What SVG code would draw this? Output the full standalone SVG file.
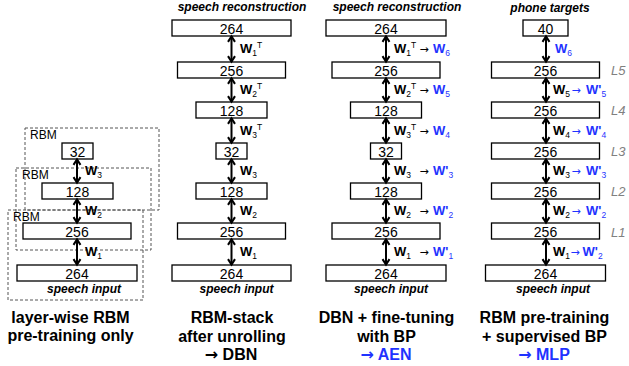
<svg xmlns="http://www.w3.org/2000/svg" width="629" height="366" viewBox="0 0 629 366">
<defs>
<marker id="ah" viewBox="0 0 8 8" refX="7" refY="4" markerWidth="8" markerHeight="8" markerUnits="userSpaceOnUse" orient="auto-start-reverse" overflow="visible"><path d="M1.1,0.5 L6.6,4 L1.1,7.5" fill="none" stroke="#000" stroke-width="2"/></marker>
</defs>
<style>
text{font-family:"Liberation Sans",Arial,sans-serif;fill:#000}
.box{fill:#fff;stroke:#000;stroke-width:1.3}
.num{font-size:14px;text-anchor:middle}
.w{font-size:13px;font-weight:bold}
.s{font-size:8.5px;font-weight:normal}
.b{fill:#1f33ff}
.ar{font-family:"DejaVu Sans",sans-serif;font-size:11px}
.ta{font-family:"DejaVu Sans",sans-serif;font-weight:bold}
.cap{font-size:12px;font-weight:bold;font-style:italic;text-anchor:middle}
.title{font-size:16px;font-weight:bold;text-anchor:middle}
.rbm{fill:none;stroke:#555;stroke-width:1;stroke-dasharray:3,2}
.rl{font-size:12px}
.L{font-size:13px;font-style:italic;fill:#808080}
.con line{stroke:#000;stroke-width:2;marker-start:url(#ah);marker-end:url(#ah)}
</style>

<!-- Column 1: layer-wise RBM -->
<g id="rbm-box-1"><rect class="rbm" x="25" y="128" width="134" height="82"/><text class="rl" x="30" y="139">RBM</text></g>
<g id="rbm-box-2"><rect class="rbm" x="16" y="168" width="135" height="82"/><text class="rl" x="22" y="179">RBM</text></g>
<g id="rbm-box-3"><rect class="rbm" x="8" y="210" width="135" height="90"/><text class="rl" x="13" y="221">RBM</text></g>

<g id="c1-32"><rect class="box" x="62" y="143" width="31" height="16"/><text class="num" x="77.5" y="156.5">32</text></g>
<g id="c1-128"><rect class="box" x="42" y="183" width="71" height="16"/><text class="num" x="77.5" y="196.5">128</text></g>
<g id="c1-256"><rect class="box" x="23" y="223" width="108" height="16"/><text class="num" x="77" y="236.5">256</text></g>
<g id="c1-264"><rect class="box" x="17" y="265" width="120" height="16"/><text class="num" x="77" y="278.5">264</text></g>

<!-- Column 2 -->
<g id="c2-264t"><rect class="box" x="172" y="20" width="119" height="16"/><text class="num" x="231.5" y="33.5">264</text></g>
<g id="c2-256t"><rect class="box" x="177.5" y="62" width="108" height="16"/><text class="num" x="231.5" y="75.5">256</text></g>
<g id="c2-128t"><rect class="box" x="196" y="102" width="71" height="16"/><text class="num" x="231.5" y="115.5">128</text></g>
<g id="c2-32"><rect class="box" x="216" y="143" width="31" height="16"/><text class="num" x="231.5" y="156.5">32</text></g>
<g id="c2-128"><rect class="box" x="196" y="183" width="71" height="16"/><text class="num" x="231.5" y="196.5">128</text></g>
<g id="c2-256"><rect class="box" x="177.5" y="223" width="108" height="16"/><text class="num" x="231.5" y="236.5">256</text></g>
<g id="c2-264"><rect class="box" x="172" y="265" width="119" height="16"/><text class="num" x="231.5" y="278.5">264</text></g>

<!-- Column 3 -->
<g id="c3-264t"><rect class="box" x="326" y="20" width="120" height="16"/><text class="num" x="386" y="33.5">264</text></g>
<g id="c3-256t"><rect class="box" x="332" y="62" width="108" height="16"/><text class="num" x="386" y="75.5">256</text></g>
<g id="c3-128t"><rect class="box" x="350.5" y="102" width="71" height="16"/><text class="num" x="386" y="115.5">128</text></g>
<g id="c3-32"><rect class="box" x="370.5" y="143" width="31" height="16"/><text class="num" x="386" y="156.5">32</text></g>
<g id="c3-128"><rect class="box" x="350.5" y="183" width="71" height="16"/><text class="num" x="386" y="196.5">128</text></g>
<g id="c3-256"><rect class="box" x="332" y="223" width="108" height="16"/><text class="num" x="386" y="236.5">256</text></g>
<g id="c3-264"><rect class="box" x="326" y="265" width="120" height="16"/><text class="num" x="386" y="278.5">264</text></g>

<!-- Column 4 -->
<g id="c4-40"><rect class="box" x="523" y="20" width="45" height="16"/><text class="num" x="545.5" y="33.5">40</text></g>
<g id="c4-L5"><rect class="box" x="491.5" y="62" width="108" height="16"/><text class="num" x="545.5" y="75.5">256</text><text class="L" x="611" y="75">L5</text></g>
<g id="c4-L4"><rect class="box" x="491.5" y="102" width="108" height="16"/><text class="num" x="545.5" y="115.5">256</text><text class="L" x="611" y="115">L4</text></g>
<g id="c4-L3"><rect class="box" x="491.5" y="143" width="108" height="16"/><text class="num" x="545.5" y="156.5">256</text><text class="L" x="611" y="156">L3</text></g>
<g id="c4-L2"><rect class="box" x="491.5" y="183" width="108" height="16"/><text class="num" x="545.5" y="196.5">256</text><text class="L" x="611" y="196">L2</text></g>
<g id="c4-L1"><rect class="box" x="491.5" y="223" width="108" height="16"/><text class="num" x="545.5" y="236.5">256</text><text class="L" x="611" y="237">L1</text></g>
<g id="c4-264"><rect class="box" x="485.5" y="265" width="120" height="16"/><text class="num" x="545.5" y="278.5">264</text></g>

<!-- Connectors -->
<g id="connectors" class="con">
<line x1="77" y1="159" x2="77" y2="183"/>
<line x1="77" y1="199" x2="77" y2="223"/>
<line x1="77" y1="239" x2="77" y2="265"/>

<line x1="231.5" y1="36" x2="231.5" y2="62"/>
<line x1="231.5" y1="78" x2="231.5" y2="102"/>
<line x1="231.5" y1="118" x2="231.5" y2="143"/>
<line x1="231.5" y1="159" x2="231.5" y2="183"/>
<line x1="231.5" y1="199" x2="231.5" y2="223"/>
<line x1="231.5" y1="239" x2="231.5" y2="265"/>

<line x1="386" y1="36" x2="386" y2="62"/>
<line x1="386" y1="78" x2="386" y2="102"/>
<line x1="386" y1="118" x2="386" y2="143"/>
<line x1="386" y1="159" x2="386" y2="183"/>
<line x1="386" y1="199" x2="386" y2="223"/>
<line x1="386" y1="239" x2="386" y2="265"/>

<line x1="546" y1="36" x2="546" y2="62"/>
<line x1="546" y1="78" x2="546" y2="102"/>
<line x1="546" y1="118" x2="546" y2="143"/>
<line x1="546" y1="159" x2="546" y2="183"/>
<line x1="546" y1="199" x2="546" y2="223"/>
<line x1="546" y1="239" x2="546" y2="265"/>
</g>

<!-- Connector labels -->
<g id="labels">
<text class="w" x="85" y="175">W<tspan class="s" dy="3">3</tspan></text>
<text class="w" x="85" y="215">W<tspan class="s" dy="3">2</tspan></text>
<text class="w" x="85" y="256">W<tspan class="s" dy="3">1</tspan></text>

<text class="w" x="240" y="53">W<tspan class="s" dy="3">1</tspan><tspan class="s" dy="-8">T</tspan></text>
<text class="w" x="240" y="94">W<tspan class="s" dy="3">2</tspan><tspan class="s" dy="-8">T</tspan></text>
<text class="w" x="240" y="134.5">W<tspan class="s" dy="3">3</tspan><tspan class="s" dy="-8">T</tspan></text>
<text class="w" x="240" y="175">W<tspan class="s" dy="3">3</tspan></text>
<text class="w" x="240" y="215">W<tspan class="s" dy="3">2</tspan></text>
<text class="w" x="240" y="256">W<tspan class="s" dy="3">1</tspan></text>

<text class="w" x="394" y="53">W<tspan class="s" dy="3">1</tspan><tspan class="s" dy="-8">T</tspan></text>
<text class="ar" x="419.5" y="53">→</text>
<text class="w b" x="433" y="53">W<tspan class="s" dy="3">6</tspan></text>
<text class="w" x="394" y="94">W<tspan class="s" dy="3">2</tspan><tspan class="s" dy="-8">T</tspan></text>
<text class="ar" x="419.5" y="94">→</text>
<text class="w b" x="433" y="94">W<tspan class="s" dy="3">5</tspan></text>
<text class="w" x="394" y="134.5">W<tspan class="s" dy="3">3</tspan><tspan class="s" dy="-8">T</tspan></text>
<text class="ar" x="419.5" y="134.5">→</text>
<text class="w b" x="433" y="134.5">W<tspan class="s" dy="3">4</tspan></text>
<text class="w" x="394" y="175">W<tspan class="s" dy="3">3</tspan></text>
<text class="ar" x="419.5" y="175">→</text>
<text class="w b" x="433" y="175">W'<tspan class="s" dy="3">3</tspan></text>
<text class="w" x="394" y="215">W<tspan class="s" dy="3">2</tspan></text>
<text class="ar" x="419.5" y="215">→</text>
<text class="w b" x="433" y="215">W'<tspan class="s" dy="3">2</tspan></text>
<text class="w" x="394" y="256">W<tspan class="s" dy="3">1</tspan></text>
<text class="ar" x="419.5" y="256">→</text>
<text class="w b" x="433" y="256">W'<tspan class="s" dy="3">1</tspan></text>

<text class="w b" x="555" y="53">W<tspan class="s" dy="3">6</tspan></text>
<text class="w" x="553" y="94">W<tspan class="s" dy="3">5</tspan></text>
<text class="ar b" x="571.5" y="94">→</text>
<text class="w b" x="586" y="94">W'<tspan class="s" dy="3">5</tspan></text>
<text class="w" x="553" y="134.5">W<tspan class="s" dy="3">4</tspan></text>
<text class="ar b" x="571.5" y="134.5">→</text>
<text class="w b" x="586" y="134.5">W'<tspan class="s" dy="3">4</tspan></text>
<text class="w" x="553" y="175">W<tspan class="s" dy="3">3</tspan></text>
<text class="ar b" x="571.5" y="175">→</text>
<text class="w b" x="586" y="175">W'<tspan class="s" dy="3">3</tspan></text>
<text class="w" x="553" y="215">W<tspan class="s" dy="3">2</tspan></text>
<text class="ar b" x="571.5" y="215">→</text>
<text class="w b" x="586" y="215">W'<tspan class="s" dy="3">2</tspan></text>
<text class="w" x="553" y="256">W<tspan class="s" dy="3">1</tspan></text>
<text class="ar b" x="570.5" y="256">→</text>
<text class="w b" x="582.5" y="256">W'<tspan class="s" dy="3">2</tspan></text>
</g>

<!-- Captions and titles -->
<g id="captions">
<text class="cap" x="242" y="11">speech reconstruction</text>
<text class="cap" x="397" y="11">speech reconstruction</text>
<text class="cap" x="550" y="12">phone targets</text>
<text class="cap" x="84" y="293">speech input</text>
<text class="cap" x="236.5" y="293">speech input</text>
<text class="cap" x="391" y="293">speech input</text>
<text class="cap" x="553" y="293">speech input</text>

<text class="title" x="70.5" y="323">layer-wise RBM</text>
<text class="title" x="70.5" y="341">pre-training only</text>
<text class="title" x="232" y="323">RBM-stack</text>
<text class="title" x="232" y="342">after unrolling</text>
<text class="title" x="231" y="360"><tspan class="ta">→</tspan> DBN</text>
<text class="title" x="386.5" y="323">DBN + fine-tuning</text>
<text class="title" x="386.5" y="342">with BP</text>
<text class="title b" x="386" y="360"><tspan class="ta">→</tspan> AEN</text>
<text class="title" x="544.5" y="323">RBM pre-training</text>
<text class="title" x="544.5" y="342">+ supervised BP</text>
<text class="title b" x="544" y="360"><tspan class="ta">→</tspan> MLP</text>
</g>
</svg>
